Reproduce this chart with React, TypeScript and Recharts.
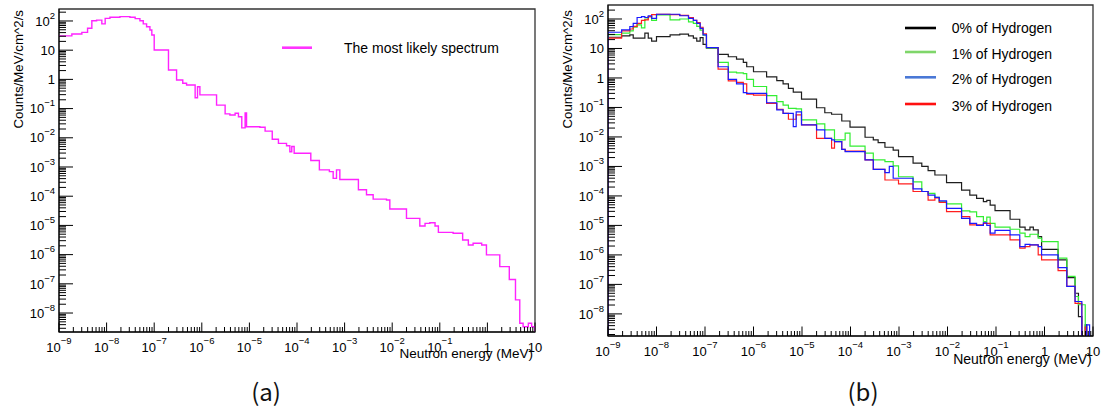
import React from 'react';
import { LineChart, Line, XAxis, YAxis, ReferenceArea, Legend } from 'recharts';

const FONT = '"Liberation Sans", Arial, Helvetica, sans-serif';

// ---------- Panel (a): the most likely spectrum (log10 of energy edges in MeV, log10 of counts) ----------
const edgesA = [-9, -8.73, -8.52, -8.40, -8.31, -8.21, -8.10, -8.03, -7.93, -7.72, -7.51, -7.40, -7.30, -7.23, -7.16, -7.09, -7.05, -7.00, -6.70, -6.53, -6.40, -6.32, -6.14, -6.09, -6.04, -5.69, -5.51, -5.41, -5.30, -5.23, -5.16, -5.09, -5.06, -4.78, -4.67, -4.52, -4.39, -4.22, -4.15, -4.11, -4.06, -3.71, -3.53, -3.32, -3.24, -3.17, -3.10, -2.71, -2.54, -2.40, -2.12, -2.05, -1.70, -1.42, -1.31, -1.21, -1.10, -1.03, -0.72, -0.52, -0.40, -0.30, -0.12, -0.02, 0.26, 0.46, 0.59, 0.68, 0.75, 0.86, 0.93, 1.0];
const spectrumA = [1.49, 1.555, 1.61, 1.75, 2.01, 2.03, 1.90, 2.09, 2.13, 2.15, 2.13, 2.08, 2.01, 1.90, 1.80, 1.69, 1.52, 1.007, 0.32, -0.02, -0.13, -0.19, -0.63, -0.25, -0.53, -0.88, -1.18, -1.22, -1.16, -1.28, -1.66, -1.15, -1.62, -1.64, -1.77, -2.05, -2.19, -2.27, -2.48, -2.30, -2.53, -2.78, -3.10, -3.16, -3.39, -3.10, -3.43, -3.78, -3.95, -4.10, -4.13, -4.44, -4.76, -5.02, -4.93, -4.91, -5.02, -5.24, -5.27, -5.50, -5.67, -5.61, -5.67, -6.01, -6.41, -6.85, -7.55, -8.35, -8.47, -8.35, -8.47];

// ---------- Panel (b): hydrogen content (null = empty bin) ----------
const edgesB = [-9, -8.72, -8.55, -8.48, -8.40, -8.31, -8.24, -8.17, -8.10, -8.0, -7.72, -7.52, -7.34, -7.24, -7.17, -7.10, -7.04, -6.97, -6.73, -6.52, -6.35, -6.21, -6.14, -6.0, -5.73, -5.52, -5.39, -5.28, -5.18, -5.12, -5.01, -4.70, -4.53, -4.39, -4.33, -4.18, -4.11, -4.01, -3.70, -3.53, -3.43, -3.29, -3.20, -3.12, -3.01, -2.71, -2.53, -2.40, -2.26, -2.17, -2.02, -1.71, -1.54, -1.40, -1.26, -1.19, -1.12, -1.02, -0.71, -0.51, -0.40, -0.30, -0.23, -0.13, -0.06, 0.28, 0.46, 0.63, 0.70, 0.77, 0.84, 0.87, 0.93, 1.0];
const hydrogen0 = [1.38, 1.43, 1.46, 1.35, 1.35, 1.35, 1.52, 1.35, 1.25, 1.40, 1.46, 1.49, 1.43, 1.35, 1.25, 1.37, 1.14, 1.03, 0.80, 0.72, 0.64, 0.53, 0.38, 0.21, 0.04, -0.09, -0.20, -0.35, -0.48, -0.48, -0.72, -1.01, -1.18, -1.23, -1.23, -1.46, -1.46, -1.67, -2.01, -2.10, -2.19, -2.35, -2.35, -2.45, -2.67, -2.89, -3.00, -3.14, -3.29, -3.29, -3.55, -3.80, -3.97, -4.08, -4.19, -4.15, -4.31, -4.50, -4.79, -5.06, -5.15, -5.06, -5.15, -5.38, -5.81, -6.17, -6.77, -7.30, -8.09, null, -8.37, null, null];
const hydrogen1 = [1.47, 1.52, 1.60, 1.72, 1.80, 1.70, 2.00, 2.08, 1.95, 2.14, 1.97, 2.00, 1.90, 1.85, 1.75, 1.62, 1.45, 1.00, 0.53, 0.20, 0.17, 0.15, -0.05, -0.29, -0.60, -0.80, -0.92, -1.03, -1.03, -1.05, -1.42, -1.56, -1.76, -1.76, -2.10, -2.10, -1.87, -2.31, -2.55, -2.78, -2.78, -2.84, -2.84, -2.98, -3.35, -3.52, -3.85, -3.91, -4.05, -4.20, -4.27, -4.51, -4.54, -4.70, -4.87, -4.72, -4.93, -5.06, -5.13, -5.26, -5.38, -5.30, -5.30, -5.43, -5.55, -6.11, -6.73, -7.41, -7.69, -7.69, null, null, null];
const hydrogen2 = [1.55, 1.63, 1.74, 1.85, 2.05, 2.08, 2.05, 2.11, 2.02, 2.16, 2.16, 2.11, 2.02, 1.95, 1.85, 1.68, 1.46, 1.03, 0.38, -0.05, -0.20, -0.50, -0.52, -0.52, -0.84, -1.08, -1.20, -1.20, -1.65, -1.15, -1.59, -1.76, -2.05, -2.10, -2.16, -2.42, -2.50, -2.50, -2.78, -3.10, -3.10, -3.21, -3.00, -3.40, -3.40, -3.76, -3.85, -3.97, -4.05, -4.17, -4.42, -4.76, -4.93, -5.00, -4.91, -5.00, -5.26, -5.17, -5.32, -5.72, -5.64, -5.66, -5.66, -5.72, -6.00, -6.43, -7.07, -7.58, -7.58, null, null, -8.37, null];
const hydrogen3 = [1.35, 1.60, 1.66, 1.75, 1.85, 1.95, 1.97, 2.08, 2.15, 2.16, 2.15, 2.12, 2.05, 1.95, 1.88, 1.72, 1.50, 1.03, 0.30, -0.10, -0.15, -0.20, -0.55, -0.58, -0.86, -1.06, -1.20, -1.40, -1.40, -1.25, -1.59, -2.05, -2.05, -2.38, -2.16, -2.42, -2.48, -2.48, -2.78, -3.10, -3.10, -3.46, -3.46, -3.46, -3.59, -3.85, -3.85, -4.14, -4.07, -4.22, -4.53, -4.70, -4.98, -4.98, -4.93, -4.93, -5.32, -5.32, -5.49, -5.77, -5.72, -5.66, -5.66, -6.00, -6.17, -6.53, -7.07, -7.64, -7.64, null, -8.45, null, null];

const seriesNames = ['0% of Hydrogen', '1% of Hydrogen', '2% of Hydrogen', '3% of Hydrogen'];
const lineColors = ['#1e1e1e', '#33ee33', '#1a1aff', '#ff1f1f'];
const legendColors = ['#000000', '#7fd66a', '#4a78d6', '#ff1010'];

// ---------- Axis ticks (decade exponents) ----------
const xTickExps = [-9, -8, -7, -6, -5, -4, -3, -2, -1, 0, 1];
const yTickExps = [-8, -7, -6, -5, -4, -3, -2, -1, 0, 1, 2];
const X_DOMAIN: [number, number] = [1e-9, 10];
const Y_DOMAIN_A: [number, number] = [2.24e-9, 257];
const Y_DOMAIN_B: [number, number] = [1.78e-9, 298];

const BOTTOM = 1e-10;

function toSteps(edges: number[], vals: (number | null)[], fromBottom: boolean) {
  const pts: { x: number; y: number }[] = [];
  const val = (v: number | null) => (v === null ? BOTTOM : Math.pow(10, v));
  if (fromBottom) pts.push({ x: Math.pow(10, edges[0]), y: BOTTOM });
  vals.forEach((v, i) => pts.push({ x: Math.pow(10, edges[i]), y: val(v) }));
  const last = Math.pow(10, edges[edges.length - 1]);
  pts.push({ x: last, y: val(vals[vals.length - 1]) });
  pts.push({ x: last, y: BOTTOM });
  return pts;
}

function logTicks(exps: number[], lo: number, hi: number) {
  const t: number[] = [];
  const first = exps[0] - 1;
  const lastE = exps[exps.length - 1];
  for (let e = first; e <= lastE; e++) {
    for (let k = 1; k <= 9; k++) {
      const v = k * Math.pow(10, e);
      if (v >= lo * 0.9999 && v <= hi * 1.0001) t.push(v);
    }
  }
  return t;
}

function decadeOf(v: number) {
  const e = Math.round(Math.log10(v));
  const isMajor = Math.abs(v / Math.pow(10, e) - 1) < 1e-6;
  return { e, isMajor };
}

function TickText(props: { x: number; y: number; e: number; anchor: 'middle' | 'end'; supDy: number }) {
  const { x, y, e, anchor, supDy } = props;
  if (e === 0 || e === 1) {
    return (
      <text x={x} y={y} textAnchor={anchor} fontSize={13} fontFamily={FONT} fill="#000">
        {e === 0 ? '1' : '10'}
      </text>
    );
  }
  return (
    <text x={x} y={y} textAnchor={anchor} fontSize={13} fontFamily={FONT} fill="#000">
      10
      <tspan dy={supDy} fontSize={9.5}>{e < 0 ? '\u2212' + -e : String(e)}</tspan>
    </text>
  );
}

const makeXTick = (majors: number[]) => (p: any) => {
  const { x, y, payload } = p;
  const { e, isMajor } = decadeOf(payload.value);
  const len = isMajor ? 9.5 : 5;
  return (
    <g>
      <line x1={x} x2={x} y1={y} y2={y - len} stroke="#000" strokeWidth={1} />
      {isMajor && majors.includes(e) ? <TickText x={x} y={y + 19.5} e={e} anchor="middle" supDy={-7.5} /> : null}
    </g>
  );
};

const makeYTick = (majors: number[]) => (p: any) => {
  const { x, y, payload } = p;
  const { e, isMajor } = decadeOf(payload.value);
  const len = isMajor ? 14 : 7;
  return (
    <g>
      <line x1={x} x2={x + len} y1={y} y2={y} stroke="#000" strokeWidth={1} />
      {isMajor && majors.includes(e) ? <TickText x={x - 4} y={y + 4.7} e={e} anchor="end" supDy={-7} /> : null}
    </g>
  );
};

function XTitle(props: { tx: number; ty: number; size: number }) {
  return (
    <text x={props.tx} y={props.ty} textAnchor="end" fontSize={props.size} fontFamily={FONT} fill="#000">
      Neutron energy (MeV)
    </text>
  );
}

function YTitle(props: { tx: number; ty: number }) {
  return (
    <text x={props.tx} y={props.ty} textAnchor="end" fontSize={13.3} fontFamily={FONT} fill="#000"
      transform={`rotate(-90 ${props.tx} ${props.ty})`}>
      Counts/MeV/cm^2/s
    </text>
  );
}

const ticksX = logTicks(xTickExps, X_DOMAIN[0], X_DOMAIN[1]);
const ticksYA = logTicks(yTickExps, Y_DOMAIN_A[0], Y_DOMAIN_A[1]);
const ticksYB = logTicks(yTickExps, Y_DOMAIN_B[0], Y_DOMAIN_B[1]);

const dataA = toSteps(edgesA, spectrumA, false);
const dataB = [hydrogen0, hydrogen1, hydrogen2, hydrogen3].map((h) => toSteps(edgesB, h, true));

const legendA = () => (
  <svg width={240} height={30} style={{ display: 'block' }}>
    <line x1={7} x2={37} y1={14.7} y2={14.7} stroke="#ff33ff" strokeWidth={2.6} />
    <text x={69} y={20.3} fontSize={14} fontFamily={FONT} fill="#000">The most likely spectrum</text>
  </svg>
);

const legendLineY = [13, 37, 62.3, 89];
const legendTextY = [18, 44, 69, 96];
const legendB = () => (
  <svg width={170} height={104} style={{ display: 'block' }}>
    {seriesNames.map((n, i) => (
      <g key={n}>
        <line x1={5} x2={36} y1={legendLineY[i]} y2={legendLineY[i]} stroke={legendColors[i]} strokeWidth={2.6} />
        <text x={51.7} y={legendTextY[i]} fontSize={14} fontFamily={FONT} fill="#000">{n}</text>
      </g>
    ))}
  </svg>
);

const drawOrder = [0, 1, 3, 2];

export default function App() {
  return (
    <div style={{ position: 'absolute', left: 0, top: 0, width: 1102, height: 408, background: '#fff', overflow: 'hidden' }}>
      <div style={{ position: 'absolute', left: 0, top: 0 }}>
        <LineChart width={550} height={408} margin={{ top: 9, right: 15, bottom: 0, left: 0 }}>
          <XAxis dataKey="x" type="number" scale="log" domain={X_DOMAIN} allowDataOverflow ticks={ticksX} interval={0}
            tick={makeXTick(xTickExps)} tickLine={false} tickSize={0} tickMargin={0} height={76}
            axisLine={{ stroke: '#000', strokeWidth: 1 }} label={<XTitle tx={533} ty={358} size={13.5} />} />
          <YAxis type="number" scale="log" domain={Y_DOMAIN_A} allowDataOverflow ticks={ticksYA} interval={0}
            tick={makeYTick(yTickExps)} tickLine={false} tickSize={0} tickMargin={0} width={59}
            axisLine={{ stroke: '#000', strokeWidth: 1 }} label={<YTitle tx={22.5} ty={10} />} />
          <ReferenceArea x1={X_DOMAIN[0]} x2={X_DOMAIN[1]} y1={Y_DOMAIN_A[0]} y2={Y_DOMAIN_A[1]} fill="none" stroke="#333" strokeWidth={1.3} />
          <Line data={dataA} dataKey="y" type="stepAfter" stroke="#ff22ff" strokeWidth={1.4} dot={false} isAnimationActive={false} />
          <Legend layout="vertical" align="center" verticalAlign="middle" content={legendA}
            wrapperStyle={{ position: 'absolute', left: 275, top: 33, width: 240, height: 30 }} />
        </LineChart>
      </div>
      <div style={{ position: 'absolute', left: 550, top: 0 }}>
        <LineChart width={552} height={408} margin={{ top: 5, right: 9, bottom: 0, left: 0 }}>
          <XAxis dataKey="x" type="number" scale="log" domain={X_DOMAIN} allowDataOverflow ticks={ticksX} interval={0}
            tick={makeXTick(xTickExps)} tickLine={false} tickSize={0} tickMargin={0} height={72}
            axisLine={{ stroke: '#000', strokeWidth: 1 }} label={<XTitle tx={541.7} ty={363.5} size={14} />} />
          <YAxis type="number" scale="log" domain={Y_DOMAIN_B} allowDataOverflow ticks={ticksYB} interval={0}
            tick={makeYTick(yTickExps)} tickLine={false} tickSize={0} tickMargin={0} width={58}
            axisLine={{ stroke: '#000', strokeWidth: 1 }} label={<YTitle tx={21.5} ty={10} />} />
          <ReferenceArea x1={X_DOMAIN[0]} x2={X_DOMAIN[1]} y1={Y_DOMAIN_B[0]} y2={Y_DOMAIN_B[1]} fill="none" stroke="#333" strokeWidth={1.3} />
          {drawOrder.map((i) => (
            <Line key={seriesNames[i]} name={seriesNames[i]} data={dataB[i]} dataKey="y" type="stepAfter"
              stroke={lineColors[i]} strokeWidth={1.2} dot={false} isAnimationActive={false} />
          ))}
          <Legend layout="vertical" align="center" verticalAlign="middle" content={legendB}
            wrapperStyle={{ position: 'absolute', left: 350, top: 15, width: 170, height: 104 }} />
        </LineChart>
      </div>
      <div style={{ position: 'absolute', left: 266, top: 379, transform: 'translateX(-50%)', fontFamily: '"Noto Sans CJK SC", sans-serif', fontSize: 24, lineHeight: '24px', color: '#111', whiteSpace: 'nowrap' }}>(a)</div>
      <div style={{ position: 'absolute', left: 863, top: 379, transform: 'translateX(-50%)', fontFamily: '"Noto Sans CJK SC", sans-serif', fontSize: 24, lineHeight: '24px', color: '#111', whiteSpace: 'nowrap' }}>(b)</div>
    </div>
  );
}
